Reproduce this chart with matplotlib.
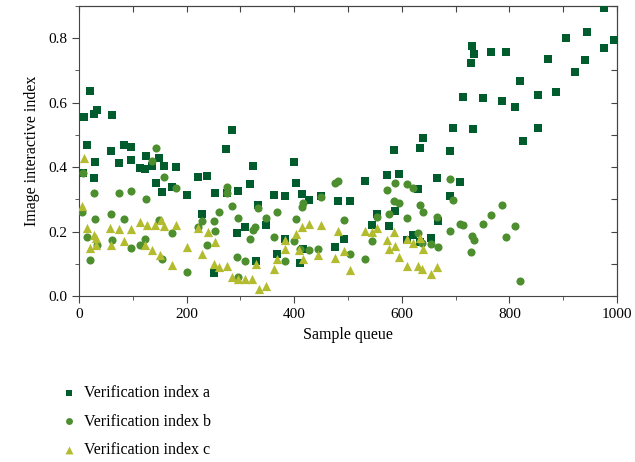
import matplotlib
matplotlib.use("Agg")
import matplotlib.pyplot as plt
from matplotlib.ticker import MultipleLocator

# verification index a (squares)
a_x = [10, 14, 20, 28, 33, 30, 27, 7, 61, 59, 75, 83, 97, 97, 114, 123, 125, 136, 149, 158,
       143, 154, 173, 181, 201, 222, 238, 252, 274, 285, 275, 295, 323, 318, 333, 229, 309,
       294, 348, 250, 329, 362, 382, 399, 404, 414, 427, 450, 481, 504, 492, 476, 368, 382,
       410, 417, 975, 995, 944, 906, 975, 941, 921, 872, 887, 853, 853, 820, 825, 810, 786,
       794, 765, 731, 735, 729, 750, 713, 696, 733, 640, 634, 689, 585, 572, 594, 532, 665,
       709, 631, 689, 588, 554, 545, 577, 667, 620, 654, 610, 633]
a_y = [0.557, 0.47, 0.637, 0.565, 0.578, 0.415, 0.366, 0.382, 0.562, 0.449, 0.412, 0.47,
       0.462, 0.421, 0.397, 0.394, 0.436, 0.405, 0.428, 0.403, 0.35, 0.322, 0.338, 0.40,
       0.314, 0.369, 0.372, 0.319, 0.455, 0.516, 0.319, 0.327, 0.405, 0.347, 0.284, 0.254,
       0.215, 0.197, 0.221, 0.072, 0.11, 0.313, 0.31, 0.415, 0.352, 0.318, 0.298, 0.31,
       0.295, 0.295, 0.177, 0.151, 0.132, 0.176, 0.103, 0.145, 0.893, 0.793, 0.82, 0.802,
       0.771, 0.734, 0.695, 0.737, 0.633, 0.623, 0.522, 0.667, 0.482, 0.586, 0.605, 0.756,
       0.756, 0.777, 0.75, 0.722, 0.615, 0.617, 0.522, 0.519, 0.491, 0.461, 0.449, 0.452,
       0.377, 0.38, 0.357, 0.365, 0.353, 0.331, 0.31, 0.265, 0.256, 0.221, 0.218, 0.233,
       0.191, 0.181, 0.174, 0.169]

# verification index b (circles)
b_x = [7, 6, 27, 30, 14, 21, 33, 75, 97, 125, 143, 136, 158, 181, 59, 83, 61, 97, 123, 113,
       149, 154, 173, 201, 222, 229, 250, 253, 238, 261, 275, 275, 285, 295, 294, 296, 309,
       318, 323, 328, 333, 348, 368, 363, 382, 400, 404, 414, 417, 410, 427, 444, 450, 476,
       482, 492, 504, 532, 545, 554, 572, 588, 577, 585, 594, 610, 620, 610, 634, 640, 631,
       637, 654, 667, 665, 689, 696, 689, 709, 713, 731, 734, 729, 750, 765, 786, 794, 810,
       820]
b_y = [0.382, 0.261, 0.319, 0.239, 0.182, 0.111, 0.16, 0.319, 0.326, 0.30, 0.458, 0.419,
       0.369, 0.335, 0.255, 0.239, 0.173, 0.15, 0.176, 0.159, 0.237, 0.116, 0.196, 0.075,
       0.215, 0.234, 0.234, 0.203, 0.159, 0.26, 0.338, 0.32, 0.279, 0.243, 0.122, 0.058,
       0.108, 0.178, 0.205, 0.215, 0.274, 0.243, 0.261, 0.182, 0.108, 0.172, 0.239, 0.276,
       0.29, 0.145, 0.142, 0.145, 0.308, 0.35, 0.357, 0.237, 0.132, 0.114, 0.171, 0.245,
       0.329, 0.35, 0.255, 0.295, 0.289, 0.348, 0.336, 0.242, 0.282, 0.261, 0.195, 0.166,
       0.162, 0.153, 0.244, 0.362, 0.298, 0.203, 0.223, 0.22, 0.187, 0.174, 0.138, 0.223,
       0.251, 0.282, 0.184, 0.217, 0.046]

# verification index c (triangles)
c_x = [10, 6, 14, 28, 32, 31, 20, 58, 75, 97, 60, 83, 113, 126, 142, 153, 158, 181, 123, 136,
       151, 173, 201, 222, 239, 253, 229, 250, 261, 275, 285, 295, 309, 321, 334, 348, 329,
       363, 368, 382, 383, 403, 415, 427, 408, 417, 444, 449, 476, 482, 492, 504, 532, 545,
       554, 585, 572, 588, 577, 594, 610, 620, 634, 639, 610, 630, 637, 654, 665]
c_y = [0.428, 0.279, 0.21, 0.191, 0.179, 0.16, 0.148, 0.212, 0.209, 0.209, 0.16, 0.17, 0.23,
       0.221, 0.221, 0.237, 0.218, 0.22, 0.16, 0.143, 0.127, 0.097, 0.151, 0.212, 0.198,
       0.169, 0.13, 0.099, 0.091, 0.093, 0.06, 0.052, 0.052, 0.052, 0.021, 0.031, 0.101,
       0.083, 0.116, 0.174, 0.146, 0.192, 0.215, 0.223, 0.143, 0.114, 0.129, 0.22, 0.119,
       0.203, 0.141, 0.081, 0.203, 0.198, 0.212, 0.198, 0.174, 0.155, 0.145, 0.12, 0.178,
       0.165, 0.181, 0.145, 0.095, 0.092, 0.083, 0.068, 0.091]

plt.rcParams["font.family"] = ["Liberation Serif", "DejaVu Serif"]
plt.rcParams["font.size"] = 11

fig = plt.figure(figsize=(6.35, 4.62), dpi=100)
ax = fig.add_axes([0.1244, 0.359, 0.8473, 0.628])

ax.scatter(a_x, a_y, marker="s", s=26, color="#005c2c", lw=0, label="Verification index a", zorder=3)
ax.scatter(b_x, b_y, marker="o", s=34, color="#4d8f2f", lw=0, label="Verification index b", zorder=3)
ax.scatter(c_x, c_y, marker="^", s=44, color="#b3bb2f", lw=0, label="Verification index c", zorder=3)

ax.set_xlim(0, 1000)
ax.set_ylim(0, 0.9)
ax.xaxis.set_major_locator(MultipleLocator(200))
ax.xaxis.set_minor_locator(MultipleLocator(100))
ax.yaxis.set_major_locator(MultipleLocator(0.2))
ax.yaxis.set_minor_locator(MultipleLocator(0.1))
ax.tick_params(which="both", direction="out", color="#444444", labelsize=11)
ax.tick_params(which="major", length=5)
ax.tick_params(which="minor", length=3)
ax.yaxis.set_major_formatter(plt.FuncFormatter(lambda v, p: f"{v:.1f}"))

# mirrored ticks pointing inward on top and right
for side in ("top", "right"):
    sec = ax.secondary_xaxis("top") if side == "top" else ax.secondary_yaxis("right")
    axis = sec.xaxis if side == "top" else sec.yaxis
    if side == "top":
        axis.set_major_locator(MultipleLocator(100))
    else:
        axis.set_major_locator(MultipleLocator(0.1))
    sec.tick_params(direction="in", length=4, color="#444444", labelleft=False,
                    labelright=False, labeltop=False)
    for s in sec.spines.values():
        s.set_color("#444444")

for s in ax.spines.values():
    s.set_color("#444444")

ax.set_xlabel("Sample queue", fontsize=11.5, labelpad=4)
ax.set_ylabel("Image interactive index", fontsize=11.5, labelpad=6)

fig.legend(loc="upper left", bbox_to_anchor=(0.083, 0.18), frameon=False, fontsize=11.5,
           labelspacing=0.78, handletextpad=0.35, borderaxespad=0, markerscale=0.85,
           handlelength=1.2)

fig.savefig("out.png", dpi=100)
